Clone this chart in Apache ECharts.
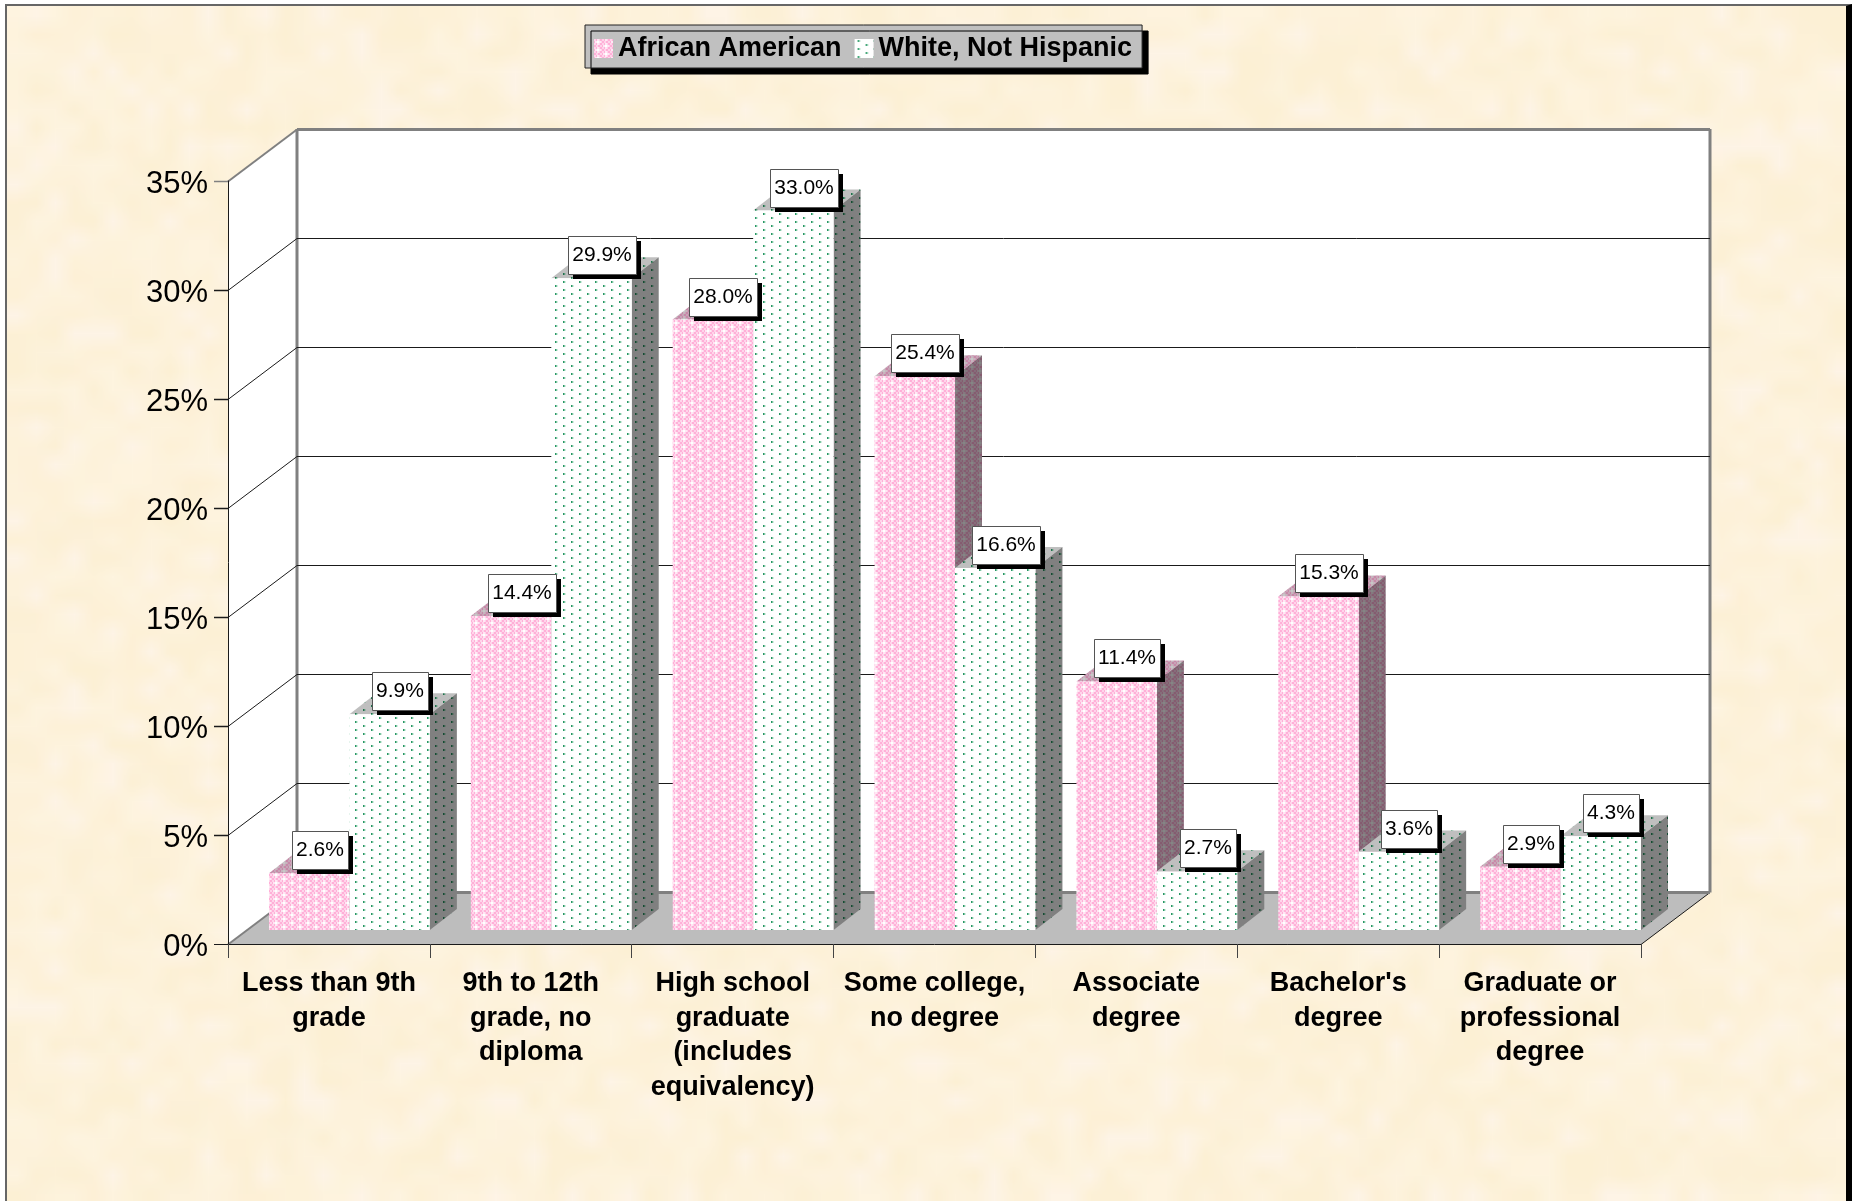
<!DOCTYPE html>
<html>
<head>
<meta charset="utf-8">
<title>Educational attainment</title>
<script src="https://cdn.jsdelivr.net/npm/echarts@6/dist/echarts.min.js"></script>
<style>
  html, body { margin: 0; padding: 0; background: #fff; overflow: hidden; }
  #paper {
    position: absolute; left: 5px; top: 4px; width: 1839px; height: 1197px;
    border-left: 2px solid #666; border-top: 2px solid #666; border-right: 6px solid #000;
    background-color: #fdf2da; background-size: 100% 100%;
  }
  #chart { position: absolute; left: 0; top: 0; width: 1856px; height: 1201px; }
</style>
</head>
<body>
<div id="paper"></div>
<div id="chart"></div>
<script>
const categories = [
  'Less than 9th\ngrade',
  '9th to 12th\ngrade, no\ndiploma',
  'High school\ngraduate\n(includes\nequivalency)',
  'Some college,\nno degree',
  'Associate\ndegree',
  "Bachelor's\ndegree",
  'Graduate or\nprofessional\ndegree'
]
const africanAmerican = [2.6, 14.4, 28.0, 25.4, 11.4, 15.3, 2.9]
const whiteNotHispanic = [9.9, 29.9, 33.0, 16.6, 2.7, 3.6, 4.3]
const yTicks = [0, 5, 10, 15, 20, 25, 30, 35]

const FONT = '"Liberation Sans", Arial, sans-serif'
// depth of the box and of the bars, in px
const DEPTH_X = 69
const DEPTH_Y = 52
const BAR_DX = 27
const BAR_DY = 21
const BAR_LIFT = 14
const BAR_INSET = 41

// mottled paper, hashed so it is the same on every load
function paperTexture() {
  const c = document.createElement('canvas')
  c.width = 96
  c.height = 64
  const ctx = c.getContext('2d')
  for (let y = 0; y < c.height; y++) {
    for (let x = 0; x < c.width; x++) {
      const h = Math.sin(x * 12.9898 + y * 78.233) * 43758.5453
      const n = h - Math.floor(h)
      const r = n > 0.88 ? 254 : 254 - Math.round(n * 2)
      const g = n > 0.88 ? 244 : 244 - Math.round(n * 5)
      const b = n > 0.88 ? 230 : 224 - Math.round(n * 14)
      ctx.fillStyle = `rgb(${r},${g},${b})`
      ctx.fillRect(x, y, 1, 1)
    }
  }
  return c.toDataURL()
}
document.getElementById('paper').style.backgroundImage = `url(${paperTexture()})`

function shade(rgb, f) {
  return `rgb(${Math.round(rgb[0] * f)},${Math.round(rgb[1] * f)},${Math.round(rgb[2] * f)})`
}

function pinkTile(f) {
  const c = document.createElement('canvas')
  c.width = 16
  c.height = 8
  const ctx = c.getContext('2d')
  for (let y = 0; y < 8; y++) {
    for (let x = 0; x < 16; x++) {
      const even = (Math.floor(x / 2) + Math.floor(y / 2)) % 2 === 0
      ctx.fillStyle = even ? shade([255, 212, 234], f) : shade([255, 176, 216], f)
      ctx.fillRect(x, y, 1, 1)
    }
  }
  // soft white plus on the checker
  const plus = (x, y) => {
    ctx.fillStyle = shade([255, 232, 244], f)
    ctx.fillRect(x - 2, y, 6, 2)
    ctx.fillRect(x, y - 2, 2, 6)
    ctx.fillStyle = shade([255, 255, 255], f)
    ctx.fillRect(x, y, 2, 2)
  }
  plus(3, 2)
  plus(11, 6)
  plus(11, -2)
  return { image: c, repeat: 'repeat' }
}

function whiteTile(f) {
  const c = document.createElement('canvas')
  c.width = 16
  c.height = 8
  const ctx = c.getContext('2d')
  ctx.fillStyle = shade([255, 255, 255], f)
  ctx.fillRect(0, 0, 16, 8)
  const dot = (x, y) => {
    ctx.fillStyle = shade([40, 150, 100], f)
    ctx.fillRect(x, y, 1, 2)
    ctx.fillStyle = shade([125, 198, 162], f)
    ctx.fillRect(x + 1, y, 1, 2)
    ctx.fillStyle = shade([212, 236, 224], f)
    ctx.fillRect(x + 2, y, 1, 2)
  }
  dot(3, 1)
  dot(11, 5)
  return { image: c, repeat: 'repeat' }
}

const pinkFill = { front: pinkTile(1), top: pinkTile(0.78), side: pinkTile(0.52) }
const whiteFill = { front: whiteTile(1), top: whiteTile(0.75), side: whiteTile(0.5) }

const measure = document.createElement('canvas').getContext('2d')
measure.font = `21px ${FONT}`

function poly(points, fill, z2) {
  return { type: 'polygon', shape: { points }, style: { fill }, z2: z2 || 0 }
}

function line(x1, y1, x2, y2, stroke, lineWidth, z2) {
  return { type: 'line', shape: { x1, y1, x2, y2 }, style: { stroke, lineWidth }, z2: z2 || 0 }
}

// walls, floor and gridlines, one tick per data row
function renderFrame(params, api) {
  const sys = params.coordSys
  const x0 = sys.x
  const x1 = sys.x + sys.width
  const v = api.value(1)
  const y = Math.round(api.coord([0, v])[1]) + 0.5
  const children = []
  const edge = v === 0 || v === yTicks[yTicks.length - 1]
  const color = edge ? '#808080' : '#1a1a1a'
  const width = edge ? 3 : 1
  if (params.dataIndex === 0) {
    const top = api.coord([0, yTicks[yTicks.length - 1]])[1]
    children.push(poly([[x0, y], [x0, top], [x0 + DEPTH_X, top - DEPTH_Y], [x0 + DEPTH_X, y - DEPTH_Y]], '#fff'))
    children.push(poly([[x0 + DEPTH_X, y - DEPTH_Y], [x0 + DEPTH_X, top - DEPTH_Y], [x1 + DEPTH_X, top - DEPTH_Y], [x1 + DEPTH_X, y - DEPTH_Y]], '#fff'))
    children.push(poly([[x0, y], [x1, y], [x1 + DEPTH_X, y - DEPTH_Y], [x0 + DEPTH_X, y - DEPTH_Y]], '#bdbdbd'))
    children.push(line(x0 + DEPTH_X, y - DEPTH_Y, x0 + DEPTH_X, top - DEPTH_Y, '#808080', 3, 2))
    children.push(line(x1 + DEPTH_X, y - DEPTH_Y, x1 + DEPTH_X, top - DEPTH_Y, '#808080', 3, 2))
    children.push(line(x1, y, x1 + DEPTH_X, y - DEPTH_Y, '#1a1a1a', 1, 2))
  }
  children.push(line(x0 - 14, y, x0, y, edge && v ? '#808080' : '#1a1a1a', v ? 1.5 : 1, 2))
  children.push(line(x0, y, x0 + DEPTH_X, y - DEPTH_Y, color, edge ? 2 : 1, 2))
  children.push(line(x0 + DEPTH_X, y - DEPTH_Y, x1 + DEPTH_X, y - DEPTH_Y, color, width, 2))
  return { type: 'group', children }
}

function makeBarRender(fill, slot) {
  return function (params, api) {
    const i = api.value(0)
    const v = api.value(1)
    const band = api.size([1, 0])[0]
    const barW = (band - BAR_INSET) / 2
    const left = api.coord([i, 0])[0] - band / 2 + BAR_INSET + slot * barW
    const right = left + barW
    const base = api.coord([i, 0])[1] - BAR_LIFT
    const top = base - (api.coord([i, 0])[1] - api.coord([i, v])[1])
    const text = v.toFixed(1) + '%'
    const boxW = Math.round(measure.measureText(text).width) + 8
    const boxX = Math.round((left + right) / 2 + 10.5 - boxW / 2)
    const boxY = Math.round(top - 4 - 38)
    return {
      type: 'group',
      children: [
        poly([[left, top], [left + BAR_DX, top - BAR_DY], [right + BAR_DX, top - BAR_DY], [right, top]], fill.top, slot),
        poly([[right, top], [right + BAR_DX, top - BAR_DY], [right + BAR_DX, base - BAR_DY], [right, base]], fill.side, slot),
        { type: 'rect', shape: { x: left, y: top, width: right - left, height: base - top }, style: { fill: fill.front }, z2: slot + 1 },
        { type: 'rect', shape: { x: boxX + 5, y: boxY + 5, width: boxW, height: 38 }, style: { fill: '#000' }, z2: 50 },
        { type: 'rect', shape: { x: boxX + 0.5, y: boxY + 0.5, width: boxW, height: 38 }, style: { fill: '#fff', stroke: '#555', lineWidth: 1 }, z2: 51 },
        {
          type: 'text',
          x: boxX + boxW / 2,
          y: boxY + 19,
          style: { text, font: `21px ${FONT}`, fill: '#000', align: 'center', verticalAlign: 'middle' },
          z2: 52
        }
      ]
    }
  }
}

const chart = echarts.init(document.getElementById('chart'), null, { renderer: 'canvas' })
chart.setOption({
  animation: false,
  backgroundColor: 'transparent',
  legend: {
    left: 585,
    top: 25,
    data: ['African American', 'White, Not Hispanic'],
    icon: 'rect',
    itemWidth: 19,
    itemHeight: 19,
    itemGap: 13,
    padding: [10, 10, 6, 9],
    backgroundColor: '#c0c0c0',
    borderColor: '#222',
    borderWidth: 1,
    shadowColor: '#000',
    shadowBlur: 0,
    shadowOffsetX: 6,
    shadowOffsetY: 6,
    selectedMode: false,
    textStyle: { fontFamily: FONT, fontSize: 27, fontWeight: 'bold', color: '#000' }
  },
  grid: { left: 228, right: 215, top: 181, bottom: 257, containLabel: false },
  xAxis: {
    type: 'category',
    data: categories,
    z: 5,
    axisLine: { lineStyle: { color: '#1a1a1a', width: 1 } },
    axisTick: { show: true, length: 14, alignWithLabel: false, lineStyle: { color: '#444', width: 1 } },
    axisLabel: {
      interval: 0,
      margin: 22,
      fontFamily: FONT,
      fontSize: 27,
      fontWeight: 'bold',
      color: '#000',
      lineHeight: 34.7,
      align: 'center'
    }
  },
  yAxis: {
    type: 'value',
    min: 0,
    max: 35,
    interval: 5,
    z: 5,
    splitLine: { show: false },
    axisLine: { show: true, lineStyle: { color: '#1a1a1a', width: 1 } },
    axisTick: { show: false },
    axisLabel: {
      margin: 20,
      color: '#000',
      formatter: '{v|{value}%}',
      rich: { v: { fontFamily: FONT, fontSize: 31, color: '#000', padding: [6, 0, 0, 0] } }
    }
  },
  series: [
    {
      type: 'custom',
      name: 'frame',
      z: 1,
      silent: true,
      clip: false,
      renderItem: renderFrame,
      encode: { x: 0, y: 1 },
      data: yTicks.map((t) => [0, t])
    },
    {
      type: 'custom',
      name: 'African American',
      z: 2,
      clip: false,
      itemStyle: { color: pinkFill.front },
      renderItem: makeBarRender(pinkFill, 0),
      encode: { x: 0, y: 1 },
      data: africanAmerican.map((v, i) => [i, v])
    },
    {
      type: 'custom',
      name: 'White, Not Hispanic',
      z: 2,
      clip: false,
      itemStyle: { color: whiteFill.front },
      renderItem: makeBarRender(whiteFill, 1),
      encode: { x: 0, y: 1 },
      data: whiteNotHispanic.map((v, i) => [i, v])
    }
  ]
})
</script>
</body>
</html>
